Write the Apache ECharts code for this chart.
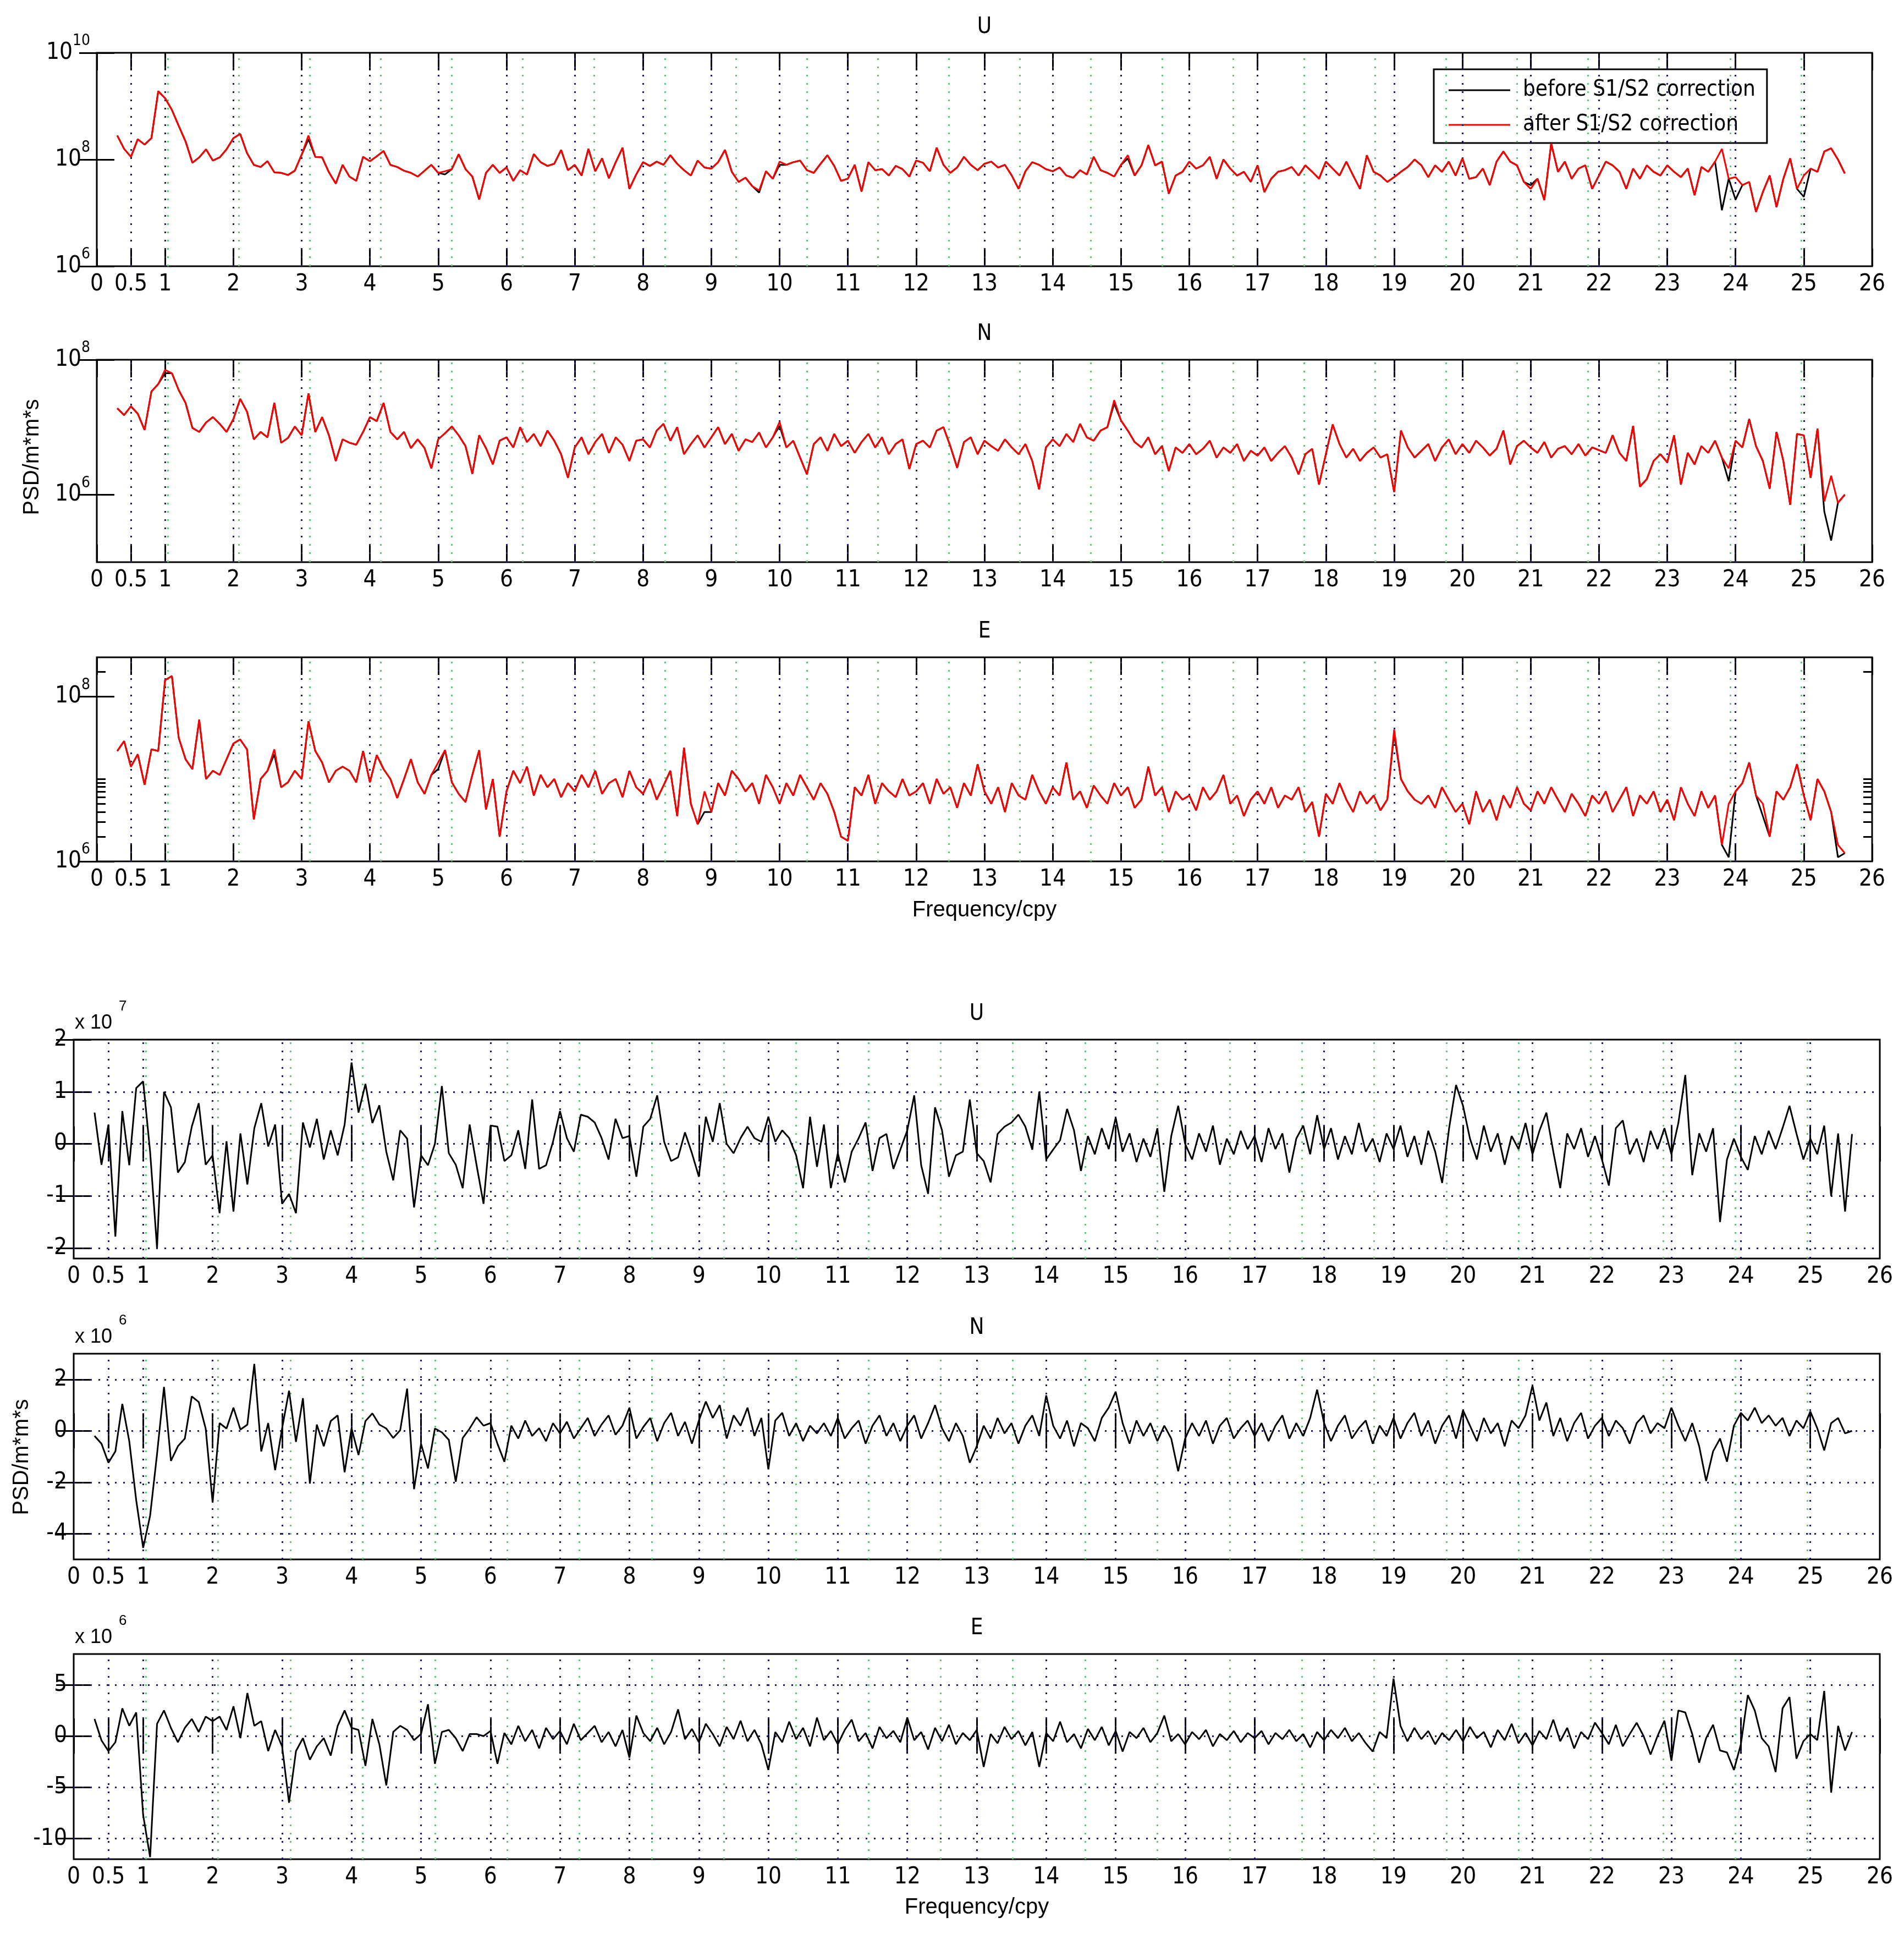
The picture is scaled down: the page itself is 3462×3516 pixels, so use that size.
<!DOCTYPE html>
<html>
<head>
<meta charset="utf-8">
<script src="https://cdn.jsdelivr.net/npm/echarts@6/dist/echarts.min.js"></script>
<style>
html, body { margin: 0; background: #fff; }
#chart { width: 3462px; height: 3516px; }
</style>
</head>
<body>
<div id="chart"></div>
<script>
// frequency sampling of the spectra (cpy)
const freqStart = 0.3;
const freqStep = 0.1;

// axis ticks and reference lines
const xTicks = [0, 0.5, 1, 2, 3, 4, 5, 6, 7, 8, 9, 10, 11, 12, 13, 14, 15, 16, 17, 18, 19, 20, 21, 22, 23, 24, 25, 26];
const xGridLines = [0.5, 1, 2, 3, 4, 5, 6, 7, 8, 9, 10, 11, 12, 13, 14, 15, 16, 17, 18, 19, 20, 21, 22, 23, 24, 25];
const draconitic = [1.04, 2.08, 3.12, 4.16, 5.2, 6.24, 7.28, 8.32, 9.36, 10.4, 11.44, 12.48, 13.52, 14.56,
  15.6, 16.64, 17.68, 18.72, 19.76, 20.8, 21.84, 22.88, 23.92, 24.96];

// PSD, log10 exponents
const uAfterExp = [
  8.45, 8.2, 8.05, 8.38, 8.28, 8.4, 9.28,
  9.15, 8.93, 8.63, 8.34, 7.94, 8.04, 8.19, 7.98, 8.04, 8.19,
  8.40, 8.48, 8.12, 7.9, 7.86, 7.97, 7.76, 7.75, 7.71, 7.79,
  8.09, 8.45, 8.05, 8.04, 7.76, 7.55, 7.9, 7.68, 7.6, 8.05,
  7.97, 8.06, 8.16, 7.9, 7.86, 7.79, 7.75, 7.68, 7.79, 7.9,
  7.75, 7.78, 7.82, 8.1, 7.82, 7.68, 7.25, 7.75, 7.9, 7.75,
  7.85, 7.6, 7.8, 7.72, 8.1, 7.95, 7.88, 7.92, 8.18, 7.8,
  7.9, 7.7, 8.2, 7.78, 8.02, 7.65, 7.95, 8.22, 7.45, 7.72,
  7.95, 7.88, 7.96, 7.9, 8.08, 7.92, 7.8, 7.7, 7.98, 7.85,
  7.83, 7.95, 8.18, 7.77, 7.58, 7.66, 7.5, 7.42, 7.78, 7.64,
  7.96, 7.9, 7.95, 7.98, 7.8, 7.75, 7.92, 8.08, 7.88, 7.6,
  7.64, 7.9, 7.4, 7.95, 7.8, 7.82, 7.7, 7.88, 7.82, 7.68,
  7.98, 7.94, 7.78, 8.22, 7.9, 7.75, 7.85, 8.05, 7.9, 7.8,
  7.92, 7.96, 7.85, 7.9, 7.7, 7.45, 7.78, 7.95, 7.9, 7.82,
  7.78, 7.85, 7.7, 7.66, 7.8, 7.72, 8.05, 7.8, 7.75, 7.68,
  7.9, 8.08, 7.7, 7.89, 8.27, 7.89, 7.96, 7.36, 7.7, 7.77,
  7.96, 7.83, 7.89, 8.05, 7.64, 8.0, 7.83, 7.7, 7.77, 7.58,
  7.89, 7.39, 7.64, 7.77, 7.8, 7.86, 7.7, 7.89, 7.77, 7.64,
  7.96, 7.83, 7.7, 7.96, 7.7, 7.45, 8.08, 7.77, 7.7, 7.58,
  7.67, 7.77, 7.86, 8.0, 7.89, 7.67, 7.89, 7.77, 7.96, 7.7,
  8.02, 7.64, 7.67, 7.83, 7.52, 7.96, 8.15, 7.96, 7.89, 7.58,
  7.45, 7.64, 7.24, 8.3, 7.77, 7.96, 7.64, 7.83, 7.89, 7.45,
  7.7, 7.96, 7.89, 7.77, 7.45, 7.83, 7.64, 7.89, 7.77, 7.7,
  7.89, 7.77, 7.67, 7.83, 7.33, 7.86, 7.77, 7.96, 8.2, 7.64,
  7.67, 7.52, 7.58, 7.02, 7.39, 7.7, 7.11, 7.64, 8.02, 7.45,
  7.7, 7.83, 7.77, 8.15, 8.21, 8.0, 7.74
];
const uBeforeExp = [
  8.45, 8.2, 8.05, 8.38, 8.28, 8.4, 9.28,
  9.15, 8.93, 8.63, 8.34, 7.94, 8.04, 8.19, 7.98, 8.04, 8.19,
  8.40, 8.48, 8.12, 7.9, 7.86, 7.97, 7.76, 7.75, 7.71, 7.79,
  8.09, 8.38, 8.05, 8.04, 7.76, 7.55, 7.9, 7.68, 7.6, 8.05,
  7.97, 8.06, 8.16, 7.9, 7.86, 7.79, 7.75, 7.68, 7.79, 7.9,
  7.75, 7.72, 7.82, 8.1, 7.82, 7.68, 7.25, 7.75, 7.9, 7.75,
  7.85, 7.6, 7.8, 7.72, 8.1, 7.95, 7.88, 7.92, 8.18, 7.8,
  7.9, 7.7, 8.2, 7.78, 8.02, 7.65, 7.95, 8.22, 7.45, 7.72,
  7.95, 7.88, 7.96, 7.9, 8.08, 7.92, 7.8, 7.7, 7.98, 7.85,
  7.83, 7.95, 8.18, 7.77, 7.58, 7.66, 7.5, 7.38, 7.78, 7.64,
  7.9, 7.9, 7.95, 7.98, 7.8, 7.75, 7.92, 8.08, 7.88, 7.6,
  7.64, 7.9, 7.4, 7.95, 7.8, 7.82, 7.7, 7.88, 7.82, 7.68,
  7.98, 7.94, 7.78, 8.22, 7.9, 7.75, 7.85, 8.05, 7.9, 7.8,
  7.92, 7.96, 7.85, 7.9, 7.7, 7.45, 7.78, 7.95, 7.9, 7.82,
  7.78, 7.85, 7.7, 7.66, 7.8, 7.72, 8.05, 7.8, 7.75, 7.68,
  7.9, 8.02, 7.7, 7.89, 8.27, 7.89, 7.96, 7.36, 7.7, 7.77,
  7.96, 7.83, 7.89, 8.05, 7.64, 8.0, 7.83, 7.7, 7.77, 7.58,
  7.89, 7.39, 7.64, 7.77, 7.8, 7.86, 7.7, 7.89, 7.77, 7.64,
  7.96, 7.83, 7.7, 7.96, 7.7, 7.45, 8.08, 7.77, 7.7, 7.58,
  7.67, 7.77, 7.86, 8.0, 7.89, 7.67, 7.89, 7.77, 7.96, 7.7,
  8.02, 7.64, 7.67, 7.83, 7.52, 7.96, 8.15, 7.96, 7.89, 7.58,
  7.52, 7.64, 7.24, 8.3, 7.77, 7.96, 7.64, 7.83, 7.89, 7.45,
  7.7, 7.96, 7.89, 7.77, 7.45, 7.83, 7.64, 7.89, 7.77, 7.7,
  7.89, 7.77, 7.67, 7.83, 7.33, 7.86, 7.77, 7.96, 7.05, 7.64,
  7.25, 7.52, 7.58, 7.02, 7.39, 7.7, 7.11, 7.64, 8.02, 7.45,
  7.3, 7.83, 7.77, 8.15, 8.21, 8.0, 7.74
];
const nAfterExp = [
  7.28, 7.18, 7.31, 7.2, 6.96, 7.53, 7.64,
  7.85, 7.8, 7.55, 7.36, 6.99, 6.93, 7.07, 7.15, 7.05, 6.93,
  7.12, 7.42, 7.23, 6.82, 6.93, 6.85, 7.36, 6.77, 6.84, 7.01,
  6.88, 7.5, 6.93, 7.15, 6.88, 6.5, 6.82, 6.77, 6.74, 6.93,
  7.15, 7.09, 7.36, 6.93, 6.82, 6.93, 6.69, 6.82, 6.69, 6.39,
  6.82, 6.91, 7.01, 6.88, 6.72, 6.31, 6.88, 6.69, 6.45, 6.8,
  6.85, 6.7, 7.0, 6.78, 6.9, 6.72, 6.95, 6.8, 6.6, 6.25,
  6.7, 6.85, 6.6, 6.78, 6.9, 6.62, 6.85, 6.74, 6.5, 6.8,
  6.82, 6.7, 6.95, 7.05, 6.8, 7.0, 6.6, 6.75, 6.88, 6.7,
  6.85, 7.0, 6.75, 6.9, 6.65, 6.82, 6.78, 6.92, 6.7, 6.85,
  7.08, 6.7, 6.8, 6.55, 6.3, 6.75, 6.85, 6.65, 6.9, 6.72,
  6.8, 6.62, 6.78, 6.9, 6.7, 6.85, 6.6, 6.75, 6.82, 6.38,
  6.75, 6.8, 6.7, 6.95, 7.0, 6.72, 6.4, 6.78, 6.85, 6.6,
  6.8, 6.72, 6.65, 6.82, 6.7, 6.6, 6.75, 6.5, 6.08, 6.7,
  6.82, 6.72, 6.9, 6.78, 7.05, 6.85, 6.8, 6.95, 7.0, 7.4,
  7.1, 6.95, 6.78, 6.7, 6.85, 6.6, 6.72, 6.35, 6.7, 6.62,
  6.75, 6.6, 6.68, 6.8, 6.55, 6.7, 6.62, 6.75, 6.5, 6.65,
  6.58, 6.7, 6.5, 6.62, 6.72, 6.55, 6.3, 6.6, 6.68, 6.15,
  6.6, 7.04, 6.75, 6.55, 6.68, 6.5, 6.62, 6.7, 6.55, 6.6,
  6.04, 6.95, 6.7, 6.55, 6.65, 6.75, 6.5, 6.7, 6.82, 6.6,
  6.75, 6.62, 6.8, 6.7, 6.58, 6.68, 6.95, 6.45, 6.72, 6.8,
  6.7, 6.62, 6.78, 6.55, 6.68, 6.72, 6.6, 6.75, 6.58, 6.7,
  6.66, 6.62, 6.88, 6.62, 6.5, 7.02, 6.12, 6.23, 6.5, 6.6,
  6.48, 6.88, 6.15, 6.62, 6.45, 6.72, 6.62, 6.8, 6.55, 6.39,
  6.8, 6.7, 7.12, 6.72, 6.5, 6.09, 6.93, 6.5, 5.85, 6.9,
  6.88, 6.25, 6.98, 5.9, 6.28, 5.88, 6.0
];
const nBeforeExp = [
  7.28, 7.18, 7.31, 7.2, 6.96, 7.53, 7.64,
  7.8, 7.8, 7.55, 7.36, 6.99, 6.93, 7.07, 7.15, 7.05, 6.93,
  7.12, 7.42, 7.23, 6.82, 6.93, 6.85, 7.36, 6.77, 6.84, 7.01,
  6.88, 7.5, 6.93, 7.15, 6.88, 6.5, 6.82, 6.77, 6.74, 6.93,
  7.15, 7.09, 7.36, 6.93, 6.82, 6.93, 6.69, 6.82, 6.69, 6.39,
  6.82, 6.91, 7.01, 6.88, 6.72, 6.31, 6.88, 6.69, 6.45, 6.8,
  6.85, 6.7, 7.0, 6.78, 6.9, 6.72, 6.95, 6.8, 6.6, 6.25,
  6.7, 6.85, 6.6, 6.78, 6.9, 6.62, 6.85, 6.74, 6.5, 6.8,
  6.82, 6.7, 6.95, 7.05, 6.8, 7.0, 6.6, 6.75, 6.88, 6.7,
  6.85, 7.0, 6.75, 6.9, 6.65, 6.82, 6.78, 6.92, 6.7, 6.85,
  7.02, 6.7, 6.8, 6.55, 6.3, 6.75, 6.85, 6.65, 6.9, 6.72,
  6.8, 6.62, 6.78, 6.9, 6.7, 6.85, 6.6, 6.75, 6.82, 6.38,
  6.75, 6.8, 6.7, 6.95, 7.0, 6.72, 6.4, 6.78, 6.85, 6.6,
  6.8, 6.72, 6.65, 6.82, 6.7, 6.6, 6.75, 6.5, 6.08, 6.7,
  6.82, 6.72, 6.9, 6.78, 7.05, 6.85, 6.8, 6.95, 7.0, 7.35,
  7.1, 6.95, 6.78, 6.7, 6.85, 6.6, 6.72, 6.35, 6.7, 6.62,
  6.75, 6.6, 6.68, 6.8, 6.55, 6.7, 6.62, 6.75, 6.5, 6.65,
  6.58, 6.7, 6.5, 6.62, 6.72, 6.55, 6.3, 6.6, 6.68, 6.15,
  6.6, 7.04, 6.75, 6.55, 6.68, 6.5, 6.62, 6.7, 6.55, 6.6,
  6.04, 6.95, 6.7, 6.55, 6.65, 6.75, 6.5, 6.7, 6.82, 6.6,
  6.75, 6.62, 6.8, 6.7, 6.58, 6.68, 6.95, 6.45, 6.72, 6.8,
  6.7, 6.62, 6.78, 6.55, 6.68, 6.72, 6.6, 6.75, 6.58, 6.7,
  6.66, 6.62, 6.88, 6.62, 6.5, 7.02, 6.12, 6.23, 6.5, 6.6,
  6.48, 6.88, 6.15, 6.62, 6.45, 6.72, 6.62, 6.8, 6.55, 6.2,
  6.8, 6.7, 7.12, 6.72, 6.5, 6.09, 6.93, 6.5, 5.85, 6.9,
  6.88, 6.25, 6.98, 5.75, 5.32, 5.88, 6.0
];
const eAfterExp = [
  7.34, 7.46, 7.15, 7.3, 6.93, 7.36, 7.34,
  8.2, 8.25, 7.5, 7.24, 7.12, 7.72, 7.0, 7.1, 7.05, 7.24,
  7.43, 7.48, 7.36, 6.51, 7.0, 7.1, 7.36, 6.9, 6.96, 7.1,
  7.0, 7.7, 7.34, 7.2, 6.96, 7.1, 7.15, 7.1, 6.96, 7.34,
  6.96, 7.29, 7.12, 7.0, 6.77, 7.0, 7.24, 6.96, 6.82, 7.05,
  7.2, 7.35, 6.96, 6.82, 6.72, 7.05, 7.35, 6.63, 7.0, 6.3,
  6.85, 7.1, 6.95, 7.15, 6.8, 7.05, 6.9, 7.0, 6.78, 6.95,
  6.85, 7.05, 6.9, 7.1, 6.82, 6.95, 7.0, 6.78, 7.1, 6.9,
  6.82, 7.0, 6.75, 6.92, 7.1, 6.55, 7.38, 6.7, 6.45, 6.85,
  6.6, 6.95, 6.8, 7.1, 7.0, 6.85, 6.95, 6.7, 7.05, 6.9,
  6.7, 6.95, 6.8, 7.05, 6.9, 6.75, 6.95, 6.82, 6.6, 6.3,
  6.25, 6.9, 6.8, 7.05, 6.7, 6.95, 6.85, 6.78, 7.0, 6.8,
  6.85, 6.95, 6.7, 7.0, 6.82, 6.9, 6.65, 6.95, 6.8, 7.18,
  6.85, 6.7, 6.9, 6.6, 6.95, 6.8, 6.75, 7.05, 6.85, 6.7,
  6.9, 6.8, 7.2, 6.75, 6.85, 6.65, 6.92, 6.8, 6.7, 6.95,
  6.8, 6.9, 6.65, 6.75, 7.15, 6.8, 6.9, 6.6, 6.85, 6.75,
  6.8, 6.62, 6.9, 6.75, 6.85, 7.05, 6.7, 6.8, 6.55, 6.75,
  6.85, 6.7, 6.9, 6.65, 6.8, 6.75, 6.9, 6.6, 6.72, 6.3,
  6.82, 6.7, 6.95, 6.75, 6.6, 6.85, 6.7, 6.8, 6.62, 6.75,
  7.6, 7.0, 6.85, 6.75, 6.7, 6.8, 6.65, 6.9, 6.75, 6.6,
  6.7, 6.45, 6.85, 6.6, 6.75, 6.5, 6.8, 6.65, 6.9, 6.7,
  6.62, 6.85, 6.7, 6.9, 6.75, 6.6, 6.82, 6.7, 6.55, 6.8,
  6.7, 6.85, 6.6, 6.75, 6.9, 6.55, 6.8, 6.7, 6.85, 6.6,
  6.75, 6.5, 6.9, 6.7, 6.55, 6.85, 6.65, 6.8, 6.2, 6.7,
  6.85, 6.95, 7.2, 6.8, 6.7, 6.3, 6.85, 6.75, 6.9, 7.18,
  6.8, 6.5, 7.0, 6.85, 6.6, 6.2, 6.1
];
const eBeforeExp = [
  7.34, 7.46, 7.15, 7.3, 6.93, 7.36, 7.34,
  8.2, 8.25, 7.5, 7.24, 7.12, 7.72, 7.0, 7.1, 7.05, 7.24,
  7.43, 7.48, 7.36, 6.51, 7.0, 7.1, 7.3, 6.9, 6.96, 7.1,
  7.0, 7.7, 7.34, 7.2, 6.96, 7.1, 7.15, 7.1, 6.96, 7.34,
  6.96, 7.29, 7.12, 7.0, 6.77, 7.0, 7.24, 6.96, 6.82, 7.05,
  7.12, 7.35, 6.96, 6.82, 6.72, 7.05, 7.35, 6.63, 7.0, 6.3,
  6.85, 7.1, 6.95, 7.15, 6.8, 7.05, 6.9, 7.0, 6.78, 6.95,
  6.85, 7.05, 6.9, 7.1, 6.82, 6.95, 7.0, 6.78, 7.1, 6.9,
  6.82, 7.0, 6.75, 6.92, 7.1, 6.55, 7.38, 6.7, 6.45, 6.6,
  6.6, 6.95, 6.8, 7.1, 7.0, 6.85, 6.95, 6.7, 7.05, 6.9,
  6.7, 6.95, 6.8, 7.05, 6.9, 6.75, 6.95, 6.82, 6.6, 6.3,
  6.25, 6.9, 6.8, 7.05, 6.7, 6.95, 6.85, 6.78, 7.0, 6.8,
  6.85, 6.95, 6.7, 7.0, 6.82, 6.9, 6.65, 6.95, 6.8, 7.18,
  6.85, 6.7, 6.9, 6.6, 6.95, 6.8, 6.75, 7.05, 6.85, 6.7,
  6.9, 6.8, 7.2, 6.75, 6.85, 6.65, 6.92, 6.8, 6.7, 6.95,
  6.8, 6.9, 6.65, 6.75, 7.15, 6.8, 6.9, 6.6, 6.85, 6.75,
  6.8, 6.62, 6.9, 6.75, 6.85, 7.05, 6.7, 6.8, 6.55, 6.75,
  6.85, 6.7, 6.9, 6.65, 6.8, 6.75, 6.9, 6.6, 6.72, 6.3,
  6.82, 6.7, 6.95, 6.75, 6.6, 6.85, 6.7, 6.8, 6.62, 6.75,
  7.55, 7.0, 6.85, 6.75, 6.7, 6.8, 6.65, 6.9, 6.75, 6.6,
  6.7, 6.45, 6.85, 6.6, 6.75, 6.5, 6.8, 6.65, 6.9, 6.7,
  6.62, 6.85, 6.7, 6.9, 6.75, 6.6, 6.82, 6.7, 6.55, 6.8,
  6.7, 6.85, 6.6, 6.75, 6.9, 6.55, 6.8, 6.7, 6.85, 6.6,
  6.75, 6.5, 6.9, 6.7, 6.55, 6.85, 6.65, 6.8, 6.2, 6.05,
  6.85, 6.95, 7.2, 6.8, 6.55, 6.3, 6.85, 6.75, 6.9, 7.18,
  6.8, 6.5, 7.0, 6.85, 6.6, 6.05, 6.1
];

// PSD differences (before - after), lower three panels
const uDiffE7 = [
  0.6, -0.4, 0.37, -1.78, 0.63, -0.41, 1.07,
  1.2, -0.15, -2.0, 1.0, 0.7, -0.55, -0.35, 0.33, 0.78, -0.4,
  -0.22, -1.33, 0.05, -1.3, 0.2, -0.78, 0.3, 0.78, -0.05, 0.37,
  -1.15, -0.96, -1.33, 0.41, -0.07, 0.48, -0.3, 0.26, -0.22, 0.37,
  1.56, 0.6, 1.15, 0.4, 0.74, -0.15, -0.7, 0.26, 0.1, -1.22,
  -0.22, -0.41, 0.0, 1.11, -0.18, -0.4, -0.85, 0.37, -0.41, -1.15,
  0.35, 0.33, -0.33, -0.22, 0.26, -0.48, 0.85, -0.48, -0.41, 0.04,
  0.63, 0.11, -0.15, 0.56, 0.52, 0.41, 0.11, -0.3, 0.48, 0.11,
  0.15, -0.63, 0.33, 0.48, 0.93, 0.04, -0.33, -0.26, 0.22, -0.18,
  -0.63, 0.52, 0.04, 0.78, 0.0, -0.18, 0.11, 0.33, 0.11, 0.04,
  0.52, 0.04, 0.26, 0.11, -0.22, -0.85, 0.52, -0.44, 0.37, -0.85,
  -0.18, -0.74, -0.15, 0.11, 0.41, -0.52, 0.11, 0.19, -0.48, -0.11,
  0.26, 0.93, -0.41, -0.96, 0.7, 0.26, -0.63, -0.22, -0.15, 0.85,
  -0.18, -0.33, -0.74, 0.19, 0.33, 0.41, 0.56, 0.33, -0.11, 1.0,
  -0.3, -0.11, 0.07, 0.67, 0.26, -0.52, 0.15, -0.2, 0.3, -0.1,
  0.5, -0.15, 0.2, -0.35, 0.1, -0.25, 0.3, -0.92, 0.15, 0.73,
  0.0, -0.3, 0.2, -0.15, 0.35, -0.4, 0.1, -0.2, 0.25, -0.1,
  0.15, -0.35, 0.3, -0.1, 0.2, -0.55, 0.1, 0.35, -0.2, 0.55,
  -0.1, 0.3, -0.3, 0.15, -0.2, 0.4, -0.15, 0.1, -0.35, 0.2,
  -0.1, 0.35, -0.25, 0.15, -0.4, 0.25, -0.15, -0.75, 0.3, 1.13,
  0.73, 0.1, -0.3, 0.35, -0.15, 0.2, -0.4, 0.15, -0.1, 0.4,
  -0.2, 0.25, 0.6, -0.15, -0.85, 0.2, -0.1, 0.3, -0.25, 0.15,
  -0.3, -0.8, 0.3, 0.45, -0.2, 0.1, -0.35, 0.25, -0.1, 0.3,
  -0.2, 0.4, 1.32, -0.6, 0.2, -0.15, 0.3, -1.5, -0.3, 0.1,
  -0.25, -0.5, 0.15, -0.2, 0.25, -0.1, 0.3, 0.73, 0.2, -0.3,
  0.1, -0.2, 0.35, -1.0, 0.2, -1.3, 0.19
];
const nDiffE6 = [
  -0.2, -0.5, -1.24, -0.8, 1.05, -0.4, -2.7,
  -4.55, -3.3, -0.9, 1.71, -1.17, -0.6, -0.3, 1.34, 1.12, 0.09,
  -2.79, 0.3, 0.09, 0.9, 0.05, 0.24, 2.6, -0.8, 0.3, -1.53,
  0.09, 1.56, -0.43, 1.27, -2.05, 0.24, -0.6, 0.38, 0.6, -1.61,
  0.1, -0.94, 0.38, 0.68, 0.24, 0.09, -0.28, 0.02, 1.64, -2.27,
  -0.5, -1.46, 0.09, -0.06, -0.35, -1.98, -0.28, 0.09, 0.53, 0.2,
  0.3, -0.5, -1.2, 0.2, -0.3, 0.4, -0.2, 0.1, -0.4, 0.3,
  -0.1, 0.35, -0.3, 0.1, 0.5, -0.2, 0.25, 0.6, -0.15, 0.2,
  0.9, -0.3, 0.15, 0.5, -0.4, 0.3, 0.7, -0.2, 0.35, -0.5,
  0.4, 1.14, 0.5, 1.0, -0.3, 0.6, 0.2, 0.9, -0.2, 0.5,
  -1.5, 0.4, 0.7, -0.2, 0.3, -0.4, 0.2, -0.1, 0.3, -0.2,
  0.5, -0.3, 0.1, 0.4, -0.5, 0.2, 0.6, -0.2, 0.3, -0.4,
  0.2, 0.6, -0.3, 0.3, 1.0, 0.1, -0.4, 0.3, -0.2, -1.24,
  -0.6, 0.2, -0.3, 0.5, -0.1, 0.3, -0.5, 0.2, 0.6, -0.2,
  1.38, 0.2, -0.3, 0.4, -0.6, 0.3, 0.1, -0.4, 0.5, 0.9,
  1.52, 0.3, -0.5, 0.4, -0.2, 0.3, -0.4, 0.2, -0.3, -1.57,
  -0.3, 0.3, -0.2, 0.4, -0.5, 0.2, 0.5, -0.3, 0.1, 0.4,
  -0.2, 0.3, -0.4, 0.2, 0.6, -0.3, 0.3, -0.2, 0.5, 1.6,
  0.3, -0.4, 0.2, 0.6, -0.3, 0.1, 0.4, -0.5, 0.2, -0.2,
  0.5, -0.3, 0.3, 0.7, -0.2, 0.4, -0.5, 0.2, 0.6, -0.3,
  0.8, 0.2, -0.4, 0.5, -0.1, 0.3, -0.6, 0.4, 0.1, 0.6,
  1.76, 0.4, 1.1, -0.2, 0.5, -0.4, 0.3, 0.7, -0.3, 0.2,
  0.5, -0.2, 0.4, 0.1, -0.5, 0.3, 0.6, -0.1, 0.3, 0.1,
  0.9, 0.2, -0.4, 0.3, -0.6, -1.95, -0.8, -0.3, -1.2, 0.2,
  0.7, 0.4, 0.9, 0.3, 0.6, 0.2, 0.5, -0.2, 0.4, 0.1,
  0.75, 0.1, -0.76, 0.3, 0.5, -0.1, 0.0
];
const eDiffE6 = [
  1.67, -0.42, -1.46, -0.6, 2.7, 1.0, 2.3,
  -7.7, -11.8, 1.2, 2.5, 0.8, -0.6, 0.8, 1.67, 0.4, 1.9,
  1.46, 1.9, 0.6, 2.9, -0.2, 4.2, 1.0, 1.46, -1.46, 0.6,
  -1.0, -6.5, -1.46, -0.2, -2.3, -1.0, -0.2, -1.9, 1.0, 2.5,
  0.8, 0.6, -2.9, 1.67, -0.8, -4.8, 0.4, 1.0, 0.6, -0.4,
  0.2, 3.1, -2.7, 0.4, 0.6, -0.2, -1.46, 0.2, 0.2, 0.0,
  0.5, -2.7, 0.3, -0.8, 1.0, -0.5, 0.6, -1.2, 0.8, -0.3,
  0.5, -0.8, 1.2, -0.4, 0.3, 1.0, -0.6, 0.4, -1.0, 0.6,
  -2.1, 2.0, 0.3, -0.5, 0.8, -0.8, 0.4, 2.6, -0.3, 0.7,
  -0.6, 1.2, 0.2, -1.0, 0.9, -0.3, 1.5, -0.5, 0.6, -0.8,
  -3.3, 0.4, -0.6, 1.4, -0.3, 0.8, -1.0, 1.8, -0.4, 0.5,
  -0.8, 0.6, 1.6, -0.5, 0.3, -1.2, 0.9, -0.2, 0.5, -0.6,
  1.8, -0.4, 0.4, -1.3, 0.8, -0.5, 1.1, -0.8, 0.3, -0.4,
  0.6, -3.0, 0.2, -0.7, 0.9, -0.3, 0.5, -0.9, 0.4, -3.0,
  0.3, -0.5, 1.4, -0.6, 0.2, -1.2, 0.7, -0.4, 0.9, -0.9,
  0.5, -1.5, 0.4, -0.2, 0.8, -0.6, 0.3, 2.0, -0.5, 0.2,
  -0.8, 0.4, -0.3, 0.6, -1.0, 0.2, -0.4, 0.5, -0.6, 0.3,
  -0.2, 0.5, -0.8, 0.3, -0.3, 0.6, -0.5, 0.2, -1.1, 0.4,
  -0.4, 0.6, -0.2, 0.8, -0.5, 0.3, -0.7, -1.5, 0.4, -0.2,
  5.6, 1.0, -0.5, 0.8, -0.3, 0.5, -0.8, 0.3, -0.4, 0.6,
  -0.5, 0.9, -0.2, 0.4, -1.1, 0.6, -0.4, 1.2, -0.7, 0.3,
  -0.9, 0.5, -0.3, 1.6, -0.5, 0.8, -1.2, 0.4, -0.3, 1.3,
  0.3, -0.8, 1.1, -1.0, 0.2, 1.3, 0.0, -1.8, 0.0, 1.5,
  -2.4, 2.5, 2.3, 0.2, -2.6, -0.2, 1.1, -1.4, -1.6, -3.3,
  -0.8, 4.0, 2.5, -0.2, -1.0, -3.5, 2.7, 3.8, -2.2, -0.5,
  0.2, -0.4, 4.4, -5.5, 1.0, -1.4, 0.4
];

const BEFORE = 'before S1/S2 correction';
const AFTER = 'after S1/S2 correction';

const FONT_N = "'Liberation Sans Narrow','DejaVu Sans Condensed','Arial Narrow',sans-serif";
const FONT = "'Liberation Sans',Arial,sans-serif";
const darkDots = {color: '#1c1c66', width: 3, type: [3, 12]};
const greenDots = {color: '#62c47a', width: 3, type: [3, 12]};

// panel layout
const panels = [
  {box: {left: 176, top: 96, width: 3228, height: 388}, title: 'U', log: true, min: 1e6, max: 1e10,
    labels: [1e6, 1e8, 1e10], ticks: [1e6, 1e8, 1e10], before: uBeforeExp, after: uAfterExp},
  {box: {left: 176, top: 654, width: 3228, height: 368}, title: 'N', log: true, min: 1e5, max: 1e8,
    labels: [1e6, 1e8], ticks: [1e6, 1e8], before: nBeforeExp, after: nAfterExp},
  {box: {left: 176, top: 1195, width: 3228, height: 371}, title: 'E', log: true, min: 1e6, max: 3e8,
    labels: [1e6, 1e8], ticks: [1e6, 1e8],
    minor: [2e6, 3e6, 4e6, 5e6, 6e6, 7e6, 8e6, 9e6, 1e7, 2e8], before: eBeforeExp, after: eAfterExp},
  {box: {left: 134, top: 1890, width: 3284, height: 398}, title: 'U', min: -2.2, max: 2,
    labels: [-2, -1, 0, 1, 2], ticks: [-2, -1, 0, 1, 2], hgrid: [-2, -1, 0, 1], diff: uDiffE7, exp: '7'},
  {box: {left: 134, top: 2461, width: 3284, height: 374}, title: 'N', min: -5, max: 3,
    labels: [-4, -2, 0, 2], ticks: [-4, -2, 0, 2], hgrid: [-4, -2, 0, 2], diff: nDiffE6, exp: '6'},
  {box: {left: 134, top: 3007, width: 3284, height: 373}, title: 'E', min: -12, max: 8,
    labels: [-10, -5, 0, 5], ticks: [-10, -5, 0, 5], hgrid: [-10, -5, 0, 5], diff: eDiffE6, exp: '6'}
];

function toPairs(vals, isExp) {
  return vals.map((v, i) => [+(freqStart + i * freqStep).toFixed(2), isExp ? Math.pow(10, v) : v]);
}

function logLabel(v) {
  return '{b|10}{s|' + Math.round(Math.log10(v)) + '}';
}

function xAxisDef(g, pos, showLabel) {
  return {
    type: 'value', gridIndex: g, position: pos, min: 0, max: 26,
    axisLine: {show: false},
    axisTick: {show: true, inside: true, length: 32, customValues: xTicks, lineStyle: {color: '#000', width: 3}},
    axisLabel: {show: showLabel, customValues: xTicks, margin: 12, color: '#000',
      fontFamily: FONT_N, fontSize: 42, formatter: v => String(v)},
    splitLine: {show: false}
  };
}

function yAxisDef(p, g, pos, showLabel, ticks, len) {
  return {
    type: p.log ? 'log' : 'value', logBase: 10, gridIndex: g, position: pos, min: p.min, max: p.max,
    axisLine: {show: false},
    axisTick: {show: true, inside: true, length: len, customValues: ticks, lineStyle: {color: '#000', width: 3}},
    axisLabel: {
      show: showLabel, customValues: p.labels, margin: 12, color: '#000',
      fontFamily: FONT_N, fontSize: 42,
      formatter: p.log ? logLabel : (v => String(v)),
      rich: {
        b: {fontFamily: FONT_N, fontSize: 42, color: '#000', verticalAlign: 'bottom', lineHeight: 42},
        s: {fontFamily: FONT_N, fontSize: 28, color: '#000', verticalAlign: 'bottom', lineHeight: 28, padding: [0, 0, 28, 0]}
      }
    },
    splitLine: {show: false}
  };
}

const option = {
  backgroundColor: '#fff',
  animation: false,
  grid: [], xAxis: [], yAxis: [], series: [], graphic: [],
  legend: {
    data: [BEFORE, AFTER],
    orient: 'vertical', left: 2607, top: 126,
    backgroundColor: '#fff', borderColor: '#000', borderWidth: 3,
    padding: [16, 21, 11, 27], itemGap: 19, itemWidth: 112, itemHeight: 20,
    icon: 'path://M0,0L112,0L112,3L0,3Z',
    selectedMode: false,
    textStyle: {fontFamily: FONT_N, fontSize: 40, color: '#000', lineHeight: 44, padding: [0, 0, 0, 18]}
  }
};

panels.forEach((p, g) => {
  option.grid.push(Object.assign({show: true, borderColor: '#000', borderWidth: 3, backgroundColor: '#fff'}, p.box));
  const xi = option.xAxis.length;
  option.xAxis.push(xAxisDef(g, 'bottom', true), xAxisDef(g, 'top', false));
  const yi = option.yAxis.length;
  option.yAxis.push(yAxisDef(p, g, 'left', true, p.ticks, 32), yAxisDef(p, g, 'right', false, p.ticks, 32));
  if (p.minor) {
    option.yAxis.push(yAxisDef(p, g, 'left', false, p.minor, 16), yAxisDef(p, g, 'right', false, p.minor, 16));
  }

  const marks = [];
  xGridLines.forEach(v => marks.push({xAxis: v, lineStyle: darkDots}));
  draconitic.forEach(v => marks.push({xAxis: v, lineStyle: greenDots}));
  (p.hgrid || []).forEach(v => marks.push({yAxis: v, lineStyle: darkDots}));
  const markLine = {
    silent: true, symbol: ['none', 'none'], label: {show: false}, animation: false,
    emphasis: {disabled: true}, lineStyle: darkDots, data: marks
  };

  const base = {type: 'line', xAxisIndex: xi, yAxisIndex: yi, showSymbol: false, symbol: 'none',
    silent: true, clip: true, emphasis: {disabled: true}};
  if (p.log) {
    option.series.push(Object.assign({}, base, {
      name: BEFORE, data: toPairs(p.before, true), z: 6,
      lineStyle: {color: '#000', width: 3}, itemStyle: {color: '#000'}, markLine: markLine
    }));
    option.series.push(Object.assign({}, base, {
      name: AFTER, data: toPairs(p.after, true), z: 7,
      lineStyle: {color: '#ff0000', width: 3}, itemStyle: {color: '#ff0000'}
    }));
  } else {
    option.series.push(Object.assign({}, base, {
      name: 'difference', data: toPairs(p.diff, false), z: 6,
      lineStyle: {color: '#000', width: 3}, itemStyle: {color: '#000'}, markLine: markLine
    }));
    // exponent note above the axis
    option.graphic.push({type: 'text', x: p.box.left + 2, y: p.box.top - 30,
      style: {text: 'x 10', fill: '#000', font: '36px ' + FONT, textVerticalAlign: 'middle'}});
    option.graphic.push({type: 'text', x: p.box.left + 82, y: p.box.top - 60,
      style: {text: p.exp, fill: '#000', font: '26px ' + FONT, textVerticalAlign: 'middle'}});
  }

  // panel title
  option.graphic.push({type: 'text', x: p.box.left + p.box.width / 2, y: p.box.top - 46,
    style: {text: p.title, fill: '#000', font: '40px ' + FONT_N, textAlign: 'center', textVerticalAlign: 'middle'}});
});

// axis names
option.graphic.push(
  {type: 'text', x: 1790, y: 1655, style: {text: 'Frequency/cpy', fill: '#000', font: '40px ' + FONT, textAlign: 'center', textVerticalAlign: 'middle'}},
  {type: 'text', x: 1776, y: 3468, style: {text: 'Frequency/cpy', fill: '#000', font: '40px ' + FONT, textAlign: 'center', textVerticalAlign: 'middle'}},
  {type: 'text', x: 59, y: 831, rotation: Math.PI / 2, style: {text: 'PSD/m*m*s', fill: '#000', font: '40px ' + FONT, textAlign: 'center', textVerticalAlign: 'middle'}},
  {type: 'text', x: 40, y: 2649, rotation: Math.PI / 2, style: {text: 'PSD/m*m*s', fill: '#000', font: '40px ' + FONT, textAlign: 'center', textVerticalAlign: 'middle'}}
);

const chart = echarts.init(document.getElementById('chart'), null, {renderer: 'canvas'});
chart.setOption(option);
</script>
</body>
</html>
